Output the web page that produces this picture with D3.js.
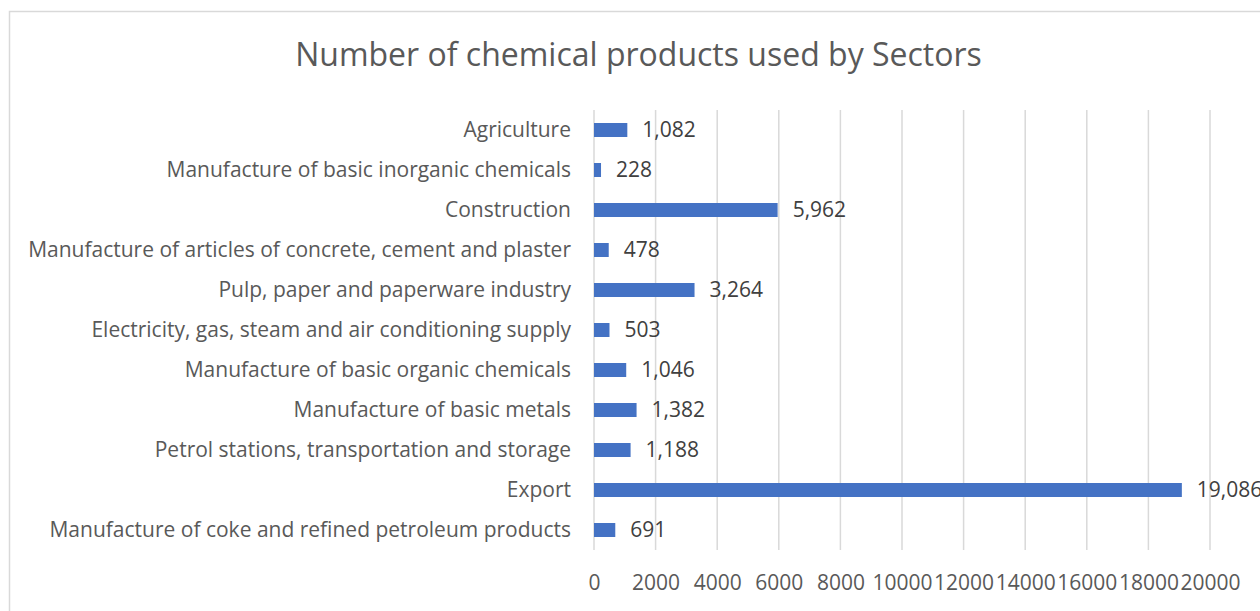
<!DOCTYPE html>
<html>
<head>
<meta charset="utf-8">
<script src="https://cdn.jsdelivr.net/npm/d3@7"></script>
<style>
  html, body { margin: 0; padding: 0; background: #fff; }
  svg { display: block; }
</style>
</head>
<body>
<svg id="chart" width="1260" height="611"></svg>
<script>
// Sectors, top to bottom
const sectors = [
  "Agriculture",
  "Manufacture of basic inorganic chemicals",
  "Construction",
  "Manufacture of articles of concrete, cement and plaster",
  "Pulp, paper and paperware industry",
  "Electricity, gas, steam and air conditioning supply",
  "Manufacture of basic organic chemicals",
  "Manufacture of basic metals",
  "Petrol stations, transportation and storage",
  "Export",
  "Manufacture of coke and refined petroleum products"
];
const productCounts = [1082, 228, 5962, 478, 3264, 503, 1046, 1382, 1188, 19086, 691];
const tickValues = [0, 2000, 4000, 6000, 8000, 10000, 12000, 14000, 16000, 18000, 20000];

const rows = sectors.map((s, i) => ({ sector: s, value: productCounts[i] }));

const svg = d3.select("#chart");
const font = "'Open Sans', sans-serif";

// chart frame
svg.append("rect")
  .attr("x", 9.5).attr("y", 11.5)
  .attr("width", 1400).attr("height", 700)
  .attr("fill", "#fff")
  .attr("stroke", "#d9d9d9")
  .attr("stroke-width", 1.5);

// title
svg.append("text")
  .attr("x", 638.5).attr("y", 66)
  .attr("text-anchor", "middle")
  .attr("font-family", font)
  .attr("font-size", 32)
  .attr("fill", "#595959")
  .text("Number of chemical products used by Sectors");

const plot = { left: 594, right: 1210, top: 110, bottom: 550 };

const x = d3.scaleLinear().domain([0, 20000]).range([plot.left, plot.right]);
const y = d3.scaleBand()
  .domain(sectors)
  .range([plot.top, plot.bottom])
  .paddingInner(0.65)
  .paddingOuter(0.325);

// vertical gridlines
svg.append("g")
  .selectAll("line")
  .data(tickValues)
  .join("line")
  .attr("x1", d => x(d)).attr("x2", d => x(d))
  .attr("y1", plot.top).attr("y2", plot.bottom)
  .attr("stroke", "#d9d9d9")
  .attr("stroke-width", 1.5);

// x axis tick labels
const xAxis = d3.axisBottom(x).tickValues(tickValues).tickSize(0).tickPadding(0).tickFormat(d3.format("d"));
const gx = svg.append("g").attr("transform", `translate(0,${plot.bottom + 25})`).call(xAxis);
gx.select(".domain").remove();
gx.selectAll("text")
  .attr("font-family", font)
  .attr("font-size", 21)
  .attr("fill", "#595959");

// category labels
const yAxis = d3.axisLeft(y).tickSize(0).tickPadding(0);
const gy = svg.append("g").attr("transform", `translate(${plot.left - 23},0)`).call(yAxis);
gy.select(".domain").remove();
gy.selectAll("text")
  .attr("font-family", font)
  .attr("font-size", 21)
  .attr("fill", "#595959");

// bars
svg.append("g")
  .selectAll("rect")
  .data(rows)
  .join("rect")
  .attr("x", x(0))
  .attr("y", d => y(d.sector))
  .attr("width", d => x(d.value) - x(0))
  .attr("height", y.bandwidth())
  .attr("fill", "#4472c4");

// value labels
const fmt = d3.format(",");
svg.append("g")
  .selectAll("text")
  .data(rows)
  .join("text")
  .attr("x", d => x(d.value) + 15)
  .attr("y", d => y(d.sector) + y.bandwidth() / 2)
  .attr("dy", "0.35em")
  .attr("font-family", font)
  .attr("font-size", 21)
  .attr("fill", "#404040")
  .text(d => fmt(d.value));
</script>
</body>
</html>
